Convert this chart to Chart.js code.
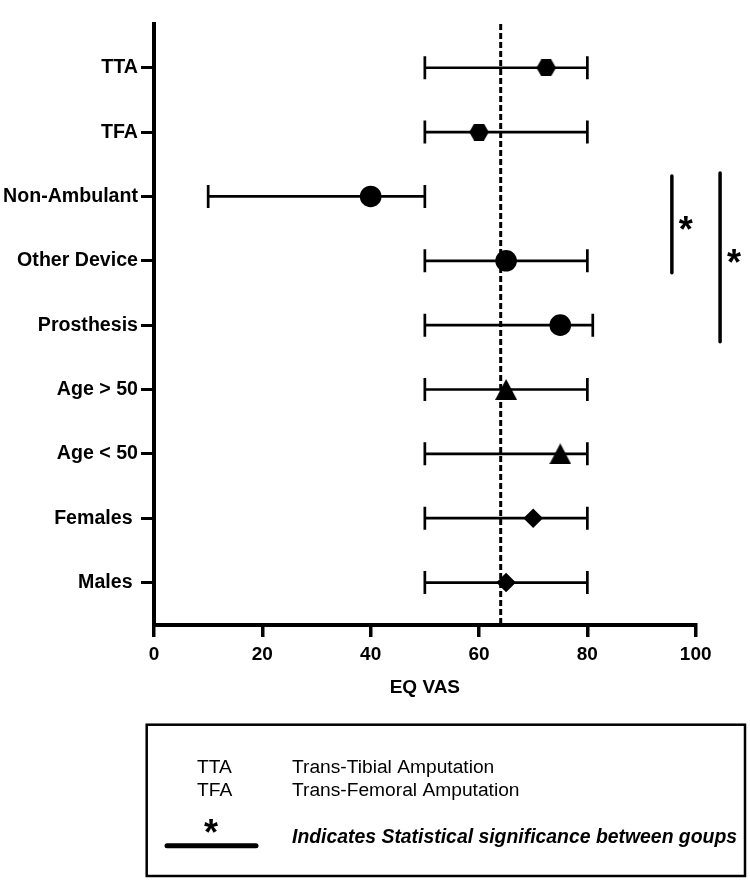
<!DOCTYPE html>
<html><head><meta charset="utf-8">
<script src="https://cdn.jsdelivr.net/npm/chart.js@4.4.0/dist/chart.umd.min.js"></script>
<style>html,body{margin:0;padding:0;background:#fff;} canvas{display:block;}</style>
</head><body>
<canvas id="c" width="750" height="880"></canvas>
<script>
// ---- data ----
const categories = ['TTA', 'TFA', 'Non-Ambulant', 'Other Device', 'Prosthesis', 'Age > 50', 'Age < 50', 'Females ', 'Males '];
const means = [72.4, 60, 40, 65, 75, 65, 75, 70, 65];
const lower = [50, 50, 10, 50, 50, 50, 50, 50, 50];
const upper = [80, 80, 50, 80, 81, 80, 80, 80, 80];
const markerShapes = ['hexagon', 'hexagon', 'circle', 'circle', 'circle', 'triangle', 'triangle', 'diamond', 'diamond'];
const referenceValue = 64;
const xTicks = [0, 20, 40, 60, 80, 100];
const sigPairs = [['Non-Ambulant', 'Other Device'], ['Non-Ambulant', 'Prosthesis']];
const sigMark = '*';
const legendAbbrev = ['TTA', 'TFA'];
const legendMeaning = ['Trans-Tibial Amputation', 'Trans-Femoral Amputation'];
const legendSigText = 'Indicates Statistical significance between goups';

const FONT = '"Liberation Sans", Arial, Helvetica, sans-serif';

// ---- marker images ----
function hexImage(R) {
  const w = Math.ceil(2 * R), h = Math.ceil(Math.sqrt(3) * R);
  const c = document.createElement('canvas'); c.width = w; c.height = h;
  const g = c.getContext('2d'); g.fillStyle = '#000'; g.beginPath();
  for (let k = 0; k < 6; k++) {
    const a = k * Math.PI / 3;
    const px = w / 2 + R * Math.cos(a), py = h / 2 + R * Math.sin(a);
    k ? g.lineTo(px, py) : g.moveTo(px, py);
  }
  g.closePath(); g.fill(); return c;
}
function triImage(w, h) {
  const c = document.createElement('canvas'); c.width = w; c.height = h;
  const g = c.getContext('2d'); g.fillStyle = '#000'; g.beginPath();
  g.moveTo(w / 2, 0); g.lineTo(w, h); g.lineTo(0, h); g.closePath(); g.fill(); return c;
}
const hexImg = hexImage(9.8);
const triImg = triImage(22, 21);
const styleMap = { hexagon: hexImg, triangle: triImg, circle: 'circle', diamond: 'rectRot' };
const radiusMap = { hexagon: 10, triangle: 11, circle: 10.8, diamond: 9.8 };

const yMin = -0.68, yMax = 8.66;

// ---- plugins ----
const errorBars = {
  id: 'errorBars',
  beforeDatasetsDraw(chart) {
    const { ctx, scales: { x, y } } = chart;
    ctx.save();
    ctx.strokeStyle = '#000'; ctx.lineWidth = 2.7; ctx.lineCap = 'butt';
    for (let i = 0; i < categories.length; i++) {
      const py = y.getPixelForValue(i);
      const x1 = x.getPixelForValue(lower[i]), x2 = x.getPixelForValue(upper[i]);
      ctx.beginPath();
      ctx.moveTo(x1, py); ctx.lineTo(x2, py);
      ctx.moveTo(x1, py - 11.5); ctx.lineTo(x1, py + 11.5);
      ctx.moveTo(x2, py - 11.5); ctx.lineTo(x2, py + 11.5);
      ctx.stroke();
    }
    ctx.restore();
  }
};

const sigBrackets = {
  id: 'sigBrackets',
  afterDatasetsDraw(chart, args, opts) {
    const { ctx, scales: { x, y } } = chart;
    ctx.save();
    ctx.strokeStyle = '#000'; ctx.fillStyle = '#000';
    ctx.lineWidth = 3.5; ctx.lineCap = 'round';
    sigPairs.forEach((pair, k) => {
      const g = opts.geometry[k];
      const px = x.getPixelForValue(g.xValue);
      const yA = y.getPixelForValue(categories.indexOf(pair[0])) + g.topPad;
      const yB = y.getPixelForValue(categories.indexOf(pair[1])) + g.bottomPad;
      ctx.beginPath(); ctx.moveTo(px, yA); ctx.lineTo(px, yB); ctx.stroke();
      const mid = (yA + yB) / 2;
      ctx.font = 'bold 36px ' + FONT;
      ctx.textAlign = 'center'; ctx.textBaseline = 'alphabetic';
      ctx.fillText(sigMark, px + 14, mid + 0.48 * 36);
    });
    ctx.restore();
  }
};

const legendBox = {
  id: 'legendBox',
  afterDraw(chart) {
    const { ctx } = chart;
    ctx.save();
    ctx.strokeStyle = '#000'; ctx.lineWidth = 2.5;
    ctx.strokeRect(146.7, 724.7, 598.3, 151.3);
    ctx.fillStyle = '#000'; ctx.textAlign = 'left'; ctx.textBaseline = 'alphabetic';
    ctx.font = '19.2px ' + FONT;
    const baselines = [772.7, 796];
    legendAbbrev.forEach((t, i) => {
      ctx.fillText(t, 197, baselines[i]);
      ctx.fillText(legendMeaning[i], 292, baselines[i]);
    });
    ctx.lineWidth = 5; ctx.lineCap = 'round';
    ctx.beginPath(); ctx.moveTo(167, 845.7); ctx.lineTo(256, 845.7); ctx.stroke();
    ctx.font = 'bold 36px ' + FONT; ctx.textAlign = 'center';
    ctx.fillText(sigMark, 211, 828 + 0.48 * 36);
    ctx.font = 'italic bold 19.4px ' + FONT; ctx.textAlign = 'left';
    ctx.fillText(legendSigText, 292, 843);
    ctx.restore();
  }
};

// ---- chart ----
new Chart(document.getElementById('c'), {
  type: 'scatter',
  data: {
    datasets: [
      {
        label: 'EQ VAS',
        data: means.map((m, i) => ({ x: m, y: i })),
        pointStyle: markerShapes.map(s => styleMap[s]),
        pointRadius: markerShapes.map(s => radiusMap[s]),
        backgroundColor: '#000',
        borderColor: '#000',
        borderWidth: 0,
        order: 0
      },
      {
        label: 'reference',
        data: [{ x: referenceValue, y: yMin }, { x: referenceValue, y: yMax }],
        showLine: true,
        borderColor: '#000',
        borderWidth: 3,
        borderDash: [6, 3],
        pointRadius: 0,
        order: 1
      }
    ]
  },
  options: {
    responsive: false,
    animation: false,
    events: [],
    layout: { padding: { left: 0, top: 24, right: 54.3, bottom: 181 } },
    plugins: {
      legend: { display: false },
      tooltip: { enabled: false },
      sigBrackets: {
        geometry: [
          { xValue: 95.6, topPad: -20.4, bottomPad: 12 },
          { xValue: 104.5, topPad: -23.4, bottomPad: 16.6 }
        ]
      }
    },
    scales: {
      x: {
        type: 'linear',
        min: xTicks[0], max: xTicks[xTicks.length - 1],
        afterBuildTicks(s) { s.ticks = xTicks.map(v => ({ value: v })); },
        afterFit(s) { s.height = 74; },
        grid: { drawOnChartArea: false, drawTicks: true, tickLength: 12, lineWidth: 3.5, color: '#000' },
        border: { display: true, width: 4, color: '#000' },
        ticks: { color: '#000', padding: 6, font: { family: FONT, size: 19, weight: 'bold' } },
        title: { display: true, text: 'EQ VAS', color: '#000', padding: { top: 0, bottom: 0 }, font: { family: FONT, size: 19, weight: 'bold' } }
      },
      y: {
        type: 'linear',
        reverse: true,
        min: yMin, max: yMax,
        afterBuildTicks(s) { s.ticks = categories.map((c, i) => ({ value: i })); },
        afterFit(s) { s.width = 154; },
        grid: { drawOnChartArea: false, drawTicks: true, tickLength: 13, lineWidth: 3, color: '#000' },
        border: { display: true, width: 4, color: '#000' },
        ticks: {
          color: '#000', padding: 3,
          font: { family: FONT, size: 19.6, weight: 'bold' },
          callback: (v) => categories[v]
        }
      }
    }
  },
  plugins: [errorBars, sigBrackets, legendBox]
});
</script>
</body></html>
